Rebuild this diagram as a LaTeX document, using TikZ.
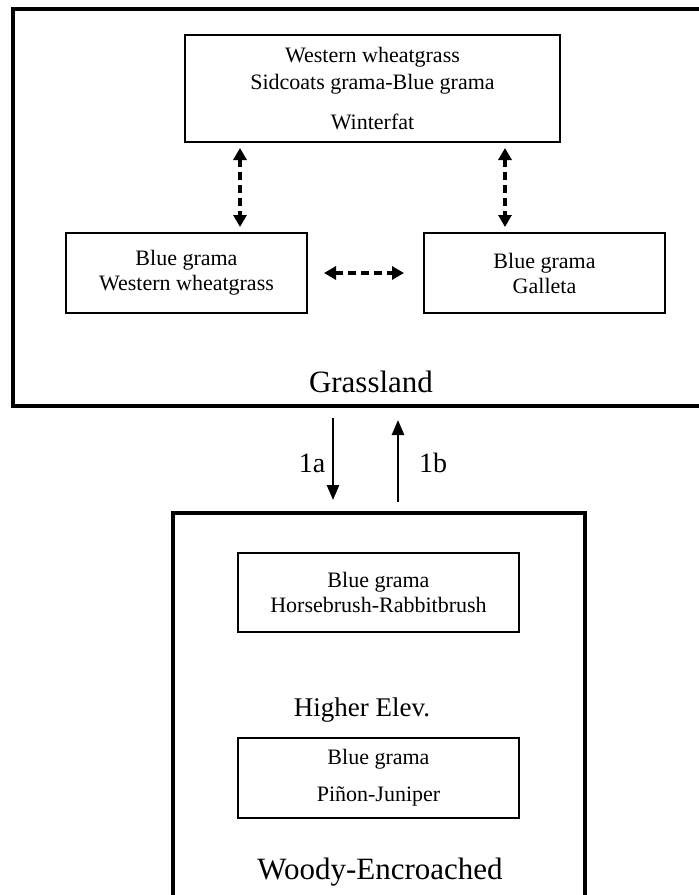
\documentclass[tikz,border=0pt]{standalone}
\usepackage{fontspec}
\setmainfont{Liberation Serif}
\usetikzlibrary{arrows.meta}
\tikzset{
    every node/.style={inner sep=0mm, align=center, font=\fontsize{22}{25}\selectfont}
}
\tikzset{
    panel/.style={rectangle, draw, line width=3.5pt},
    stand/.style={rectangle, draw, line width=2pt},
    title/.style={font=\fontsize{31}{36}\selectfont},
    trans/.style={-{Triangle[length=15pt, width=12pt]}, line width=2.5pt},
    swap/.style={{Triangle[length=12pt, width=13pt]}-{Triangle[length=12pt, width=13pt]}, line width=3.5pt, dash pattern=on 8pt off 5pt}
}

\begin{document}
\begin{tikzpicture}[x=1pt, y=-1pt]
    \useasboundingbox (0, 0) rectangle (699, 895);

    \node (grass) [panel, minimum width=692pt, minimum height=397pt] at (359, 207.5) {};
    \node (woody) [panel, minimum width=412pt, minimum height=392pt] at (379, 709) {};

    \node (wwsg) [stand, minimum width=375pt, minimum height=107pt] at (372.5, 88.5) {Western wheatgrass\\[2pt] Sidcoats grama-Blue grama\\[15pt] Winterfat};
    \node (bgww) [stand, minimum width=241pt, minimum height=80pt] at (186.5, 273) {Blue grama\\ Western wheatgrass};
    \node (bgga) [stand, minimum width=241pt, minimum height=80pt] at (544.5, 273) {Blue grama\\ Galleta};
    \node (bghr) [stand, minimum width=281pt, minimum height=79pt] at (378.5, 592.5) {Blue grama\\ Horsebrush-Rabbitbrush};
    \node (bgpj) [stand, minimum width=281pt, minimum height=80pt] at (378.5, 778) {Blue grama\\[12pt] Pi\~non-Juniper};

    \node (grassname) [title] at (371, 382) {Grassland};
    \node (elev) [font=\fontsize{27}{32}\selectfont] at (362, 710) {Higher Elev.};
    \node (woodyname) [title] at (380, 872) {Woody-Encroached};
    \node (t1a) [font=\fontsize{28}{32}\selectfont] at (312, 463) {1a};
    \node (t1b) [font=\fontsize{28}{32}\selectfont] at (433, 463) {1b};

    \coordinate (down1) at (333, 418);
    \coordinate (down2) at (333, 500);
    \coordinate (up1) at (398, 502);
    \coordinate (up2) at (398, 420);

    \draw [swap] ([xshift=-132.5pt, yshift=-5pt]wwsg.south) -- ([xshift=-132.5pt, yshift=5pt]wwsg.south |- bgww.north);
    \draw [swap] ([xshift=132.5pt, yshift=-5pt]wwsg.south) -- ([xshift=132.5pt, yshift=5pt]wwsg.south |- bgga.north);
    \draw [swap, shorten <=16pt, shorten >=19pt] (bgww.east) -- (bgga.west);

    \draw [trans] (down1) -- (down2);
    \draw [trans] (up1) -- (up2);
\end{tikzpicture}
\end{document}
